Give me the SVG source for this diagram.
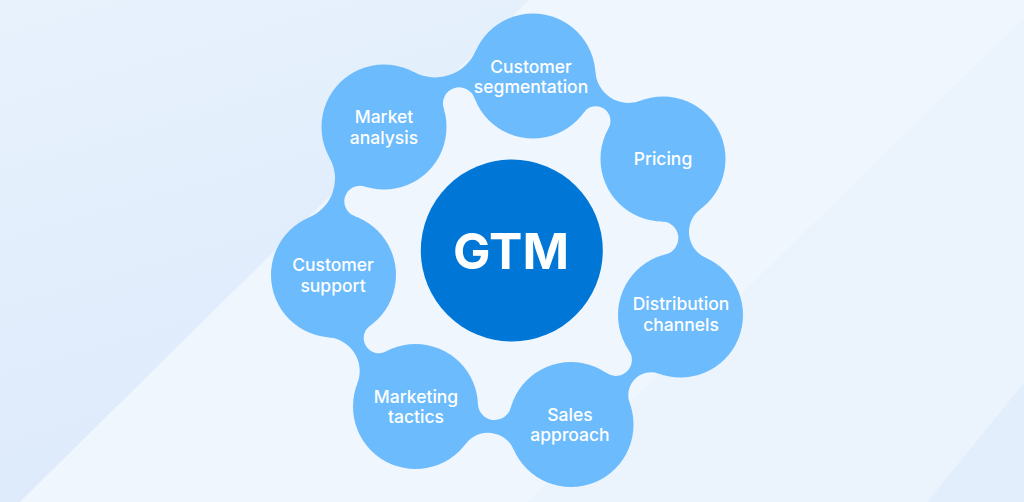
<svg xmlns="http://www.w3.org/2000/svg" width="1024" height="502" viewBox="0 0 1024 502">
  <defs>
    <style>
      .node { fill: #6CBBFD; }
      .bridge { fill: #6CBBFD; }
      .lbl { font-family: Inter, "Noto Sans", "Liberation Sans", sans-serif; font-size: 17.5px; font-weight: 500; fill: #FFFFFF; text-anchor: middle; }
      .core { fill: #0077D7; }
      .coretxt { font-family: Inter, "Noto Sans", "Liberation Sans", sans-serif; font-size: 50px; font-weight: 700; fill: #FFFFFF; text-anchor: middle; }
    </style>
    <linearGradient id="gLeft" x1="0" y1="0" x2="0.3" y2="1">
      <stop offset="0" stop-color="#E8F2FD"/>
      <stop offset="1" stop-color="#DDEAFB"/>
    </linearGradient>
  </defs>

  <g id="background">
    <rect x="0" y="0" width="1024" height="502" fill="#EBF4FD"/>
    <polygon points="0,0 529,0 20,502 0,502" fill="url(#gLeft)"/>
    <polygon points="20,502 529,0 1024,0 1024,18 528,502" fill="#EFF6FE"/>
    <polygon points="528,502 1024,18 1024,383 927,502" fill="#EBF4FD"/>
    <polygon points="927,502 1024,383 1024,502" fill="#E2EEFC"/>
  </g>

  <g id="connectors">
    <path class="bridge" d="M384,127 L413.76,72.04 A44.6,44.6 0 0 0 475.8,50.8 L533,76 L474.5,97.95 A16.3,16.3 0 0 0 443.67,108.51 Z"/>
    <path class="bridge" d="M533,76 L595.38,71.88 A33.21,33.21 0 0 0 640.49,100.68 L663,159 L608.55,128.29 A14.72,14.72 0 0 0 583.77,112.47 Z"/>
    <path class="bridge" d="M663,159 L700.4,209.08 A28.45,28.45 0 0 0 705.87,257.88 L680.5,315 L665.63,254.3 A16.64,16.64 0 0 0 661.95,221.49 Z"/>
    <path class="bridge" d="M680.5,315 L658.94,373.66 A22.81,22.81 0 0 0 629.66,402.94 L571,424.5 L606.48,373.05 A16.23,16.23 0 0 0 629.05,350.48 Z"/>
    <path class="bridge" d="M571,424.5 L513.73,449.53 A28.07,28.07 0 0 0 465.54,443.95 L415.5,406.5 L477.95,404.02 A16.72,16.72 0 0 0 510.78,407.82 Z"/>
    <path class="bridge" d="M415.5,406.5 L357.34,383.61 A33.98,33.98 0 0 0 328.46,337.29 L333.5,275 L370.02,325.72 A15.16,15.16 0 0 0 386.03,351.39 Z"/>
    <path class="bridge" d="M333.5,275 L309.15,217.45 A42.34,42.34 0 0 0 329.55,157.67 L384,127 L365.12,186.57 A15.71,15.71 0 0 0 354.97,216.31 Z"/>
  </g>

  <g id="node-customer-segmentation">
    <circle class="node" cx="533" cy="76" r="62.5"/>
    <text class="lbl" x="531" y="72.5">Customer</text>
    <text class="lbl" x="531" y="93">segmentation</text>
  </g>
  <g id="node-pricing">
    <circle class="node" cx="663" cy="159" r="62.5"/>
    <text class="lbl" x="663" y="165">Pricing</text>
  </g>
  <g id="node-distribution-channels">
    <circle class="node" cx="680.5" cy="315" r="62.5"/>
    <text class="lbl" x="681" y="310">Distribution</text>
    <text class="lbl" x="681" y="330.5">channels</text>
  </g>
  <g id="node-sales-approach">
    <circle class="node" cx="571" cy="424.5" r="62.5"/>
    <text class="lbl" x="570" y="420.7">Sales</text>
    <text class="lbl" x="570" y="441">approach</text>
  </g>
  <g id="node-marketing-tactics">
    <circle class="node" cx="415.5" cy="406.5" r="62.5"/>
    <text class="lbl" x="416" y="402.7">Marketing</text>
    <text class="lbl" x="416" y="423.3">tactics</text>
  </g>
  <g id="node-customer-support">
    <circle class="node" cx="333.5" cy="275" r="62.5"/>
    <text class="lbl" x="333" y="271">Customer</text>
    <text class="lbl" x="333" y="291.7">support</text>
  </g>
  <g id="node-market-analysis">
    <circle class="node" cx="384" cy="127" r="62.5"/>
    <text class="lbl" x="384" y="123.3">Market</text>
    <text class="lbl" x="384" y="144">analysis</text>
  </g>
  <g id="node-gtm">
    <circle class="core" cx="511.8" cy="250.5" r="91"/>
    <text class="coretxt" x="511" y="269">GTM</text>
  </g>
</svg>
